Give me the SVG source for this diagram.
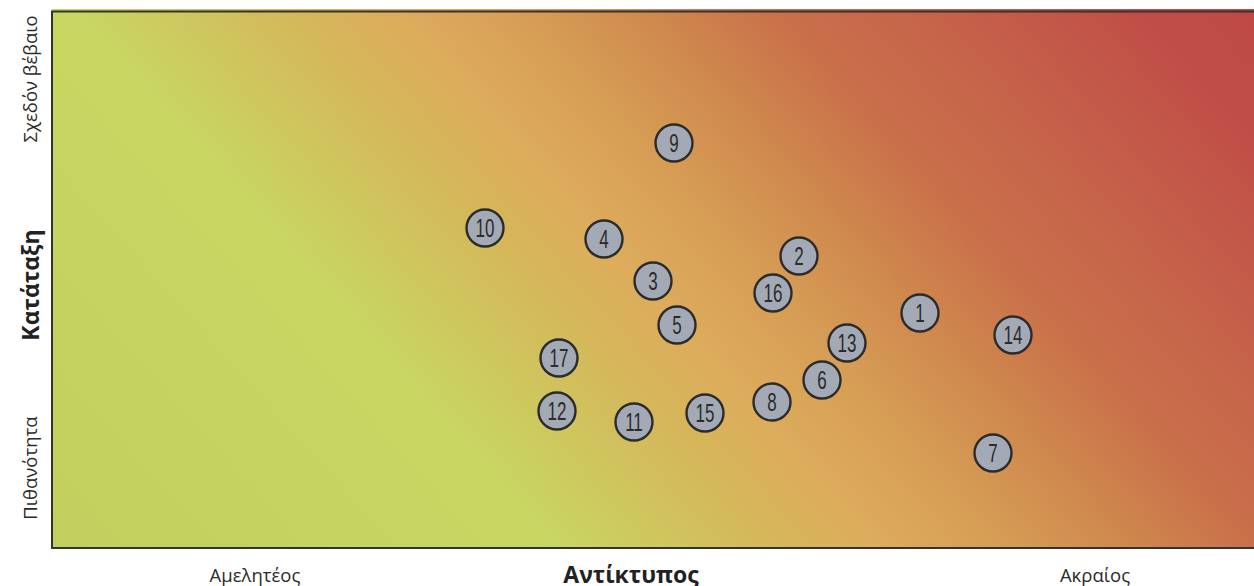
<svg xmlns="http://www.w3.org/2000/svg" width="1254" height="586" viewBox="0 0 1254 586">
<style>
.node circle{fill:#a3aab6;stroke:#2b2b2b;stroke-width:2.4}
.node text{font-family:"Liberation Sans",Arial,sans-serif;font-size:25px;fill:#2b2b2b;text-anchor:middle}
.lbl{font-family:"Open Sans","Noto Sans",sans-serif;font-size:18.5px;fill:#2b2b2b;text-anchor:middle}
.ttl{font-family:"Open Sans","Noto Sans",sans-serif;font-size:23px;font-weight:bold;fill:#222;text-anchor:middle}
</style>
<defs>
<linearGradient id="bg" gradientUnits="userSpaceOnUse" x1="51" y1="548" x2="987" y2="-289">
<stop offset="0" stop-color="#c2cf5e"/>
<stop offset="0.30" stop-color="#c8d662"/>
<stop offset="0.43" stop-color="#d5b75a"/>
<stop offset="0.49" stop-color="#ddac5c"/>
<stop offset="0.57" stop-color="#d69c55"/>
<stop offset="0.64" stop-color="#cf884d"/>
<stop offset="0.72" stop-color="#c96f4a"/>
<stop offset="0.80" stop-color="#c6644a"/>
<stop offset="0.93" stop-color="#c04e47"/>
<stop offset="1" stop-color="#bf4a45"/>
</linearGradient>
</defs>
<rect x="0" y="0" width="1254" height="586" fill="#ffffff"/>
<g id="plot">
<rect x="52" y="9" width="1210" height="539" fill="url(#bg)"/>
<path d="M1262 11.5 H52 V548 H1262" fill="none" stroke="#333" stroke-width="2"/>
</g>
<g id="axis-labels">
<text class="lbl" transform="translate(37 79) rotate(-90)">Σχεδόν βέβαιο</text>
<text class="ttl" transform="translate(39 285) rotate(-90)">Κατάταξη</text>
<text class="lbl" transform="translate(37 468) rotate(-90)">Πιθανότητα</text>
<text class="lbl" x="255" y="582">Αμελητέος</text>
<text class="ttl" x="631" y="583">Αντίκτυπος</text>
<text class="lbl" x="1095" y="582">Ακραίος</text>
</g>
<g id="connectors"></g>
<g id="n1" class="node"><circle cx="920" cy="313" r="18.5"/><text transform="translate(920 322) scale(0.68 1)">1</text></g>
<g id="n2" class="node"><circle cx="799" cy="256" r="18.5"/><text transform="translate(799 265) scale(0.68 1)">2</text></g>
<g id="n3" class="node"><circle cx="653" cy="281" r="18.5"/><text transform="translate(653 290) scale(0.68 1)">3</text></g>
<g id="n4" class="node"><circle cx="604" cy="239" r="18.5"/><text transform="translate(604 248) scale(0.68 1)">4</text></g>
<g id="n5" class="node"><circle cx="677" cy="325" r="18.5"/><text transform="translate(677 334) scale(0.68 1)">5</text></g>
<g id="n6" class="node"><circle cx="822" cy="380" r="18.5"/><text transform="translate(822 389) scale(0.68 1)">6</text></g>
<g id="n7" class="node"><circle cx="993" cy="453" r="18.5"/><text transform="translate(993 462) scale(0.68 1)">7</text></g>
<g id="n8" class="node"><circle cx="772" cy="402" r="18.5"/><text transform="translate(772 411) scale(0.68 1)">8</text></g>
<g id="n9" class="node"><circle cx="674" cy="143" r="18.5"/><text transform="translate(674 152) scale(0.68 1)">9</text></g>
<g id="n10" class="node"><circle cx="485" cy="228" r="18.5"/><text transform="translate(485 237) scale(0.68 1)">10</text></g>
<g id="n11" class="node"><circle cx="634" cy="422" r="18.5"/><text transform="translate(634 431) scale(0.68 1)">11</text></g>
<g id="n12" class="node"><circle cx="557" cy="411" r="18.5"/><text transform="translate(557 420) scale(0.68 1)">12</text></g>
<g id="n13" class="node"><circle cx="847" cy="343" r="18.5"/><text transform="translate(847 352) scale(0.68 1)">13</text></g>
<g id="n14" class="node"><circle cx="1013" cy="335" r="18.5"/><text transform="translate(1013 344) scale(0.68 1)">14</text></g>
<g id="n15" class="node"><circle cx="705" cy="413" r="18.5"/><text transform="translate(705 422) scale(0.68 1)">15</text></g>
<g id="n16" class="node"><circle cx="773" cy="293" r="18.5"/><text transform="translate(773 302) scale(0.68 1)">16</text></g>
<g id="n17" class="node"><circle cx="559" cy="358" r="18.5"/><text transform="translate(559 367) scale(0.68 1)">17</text></g>
</svg>
